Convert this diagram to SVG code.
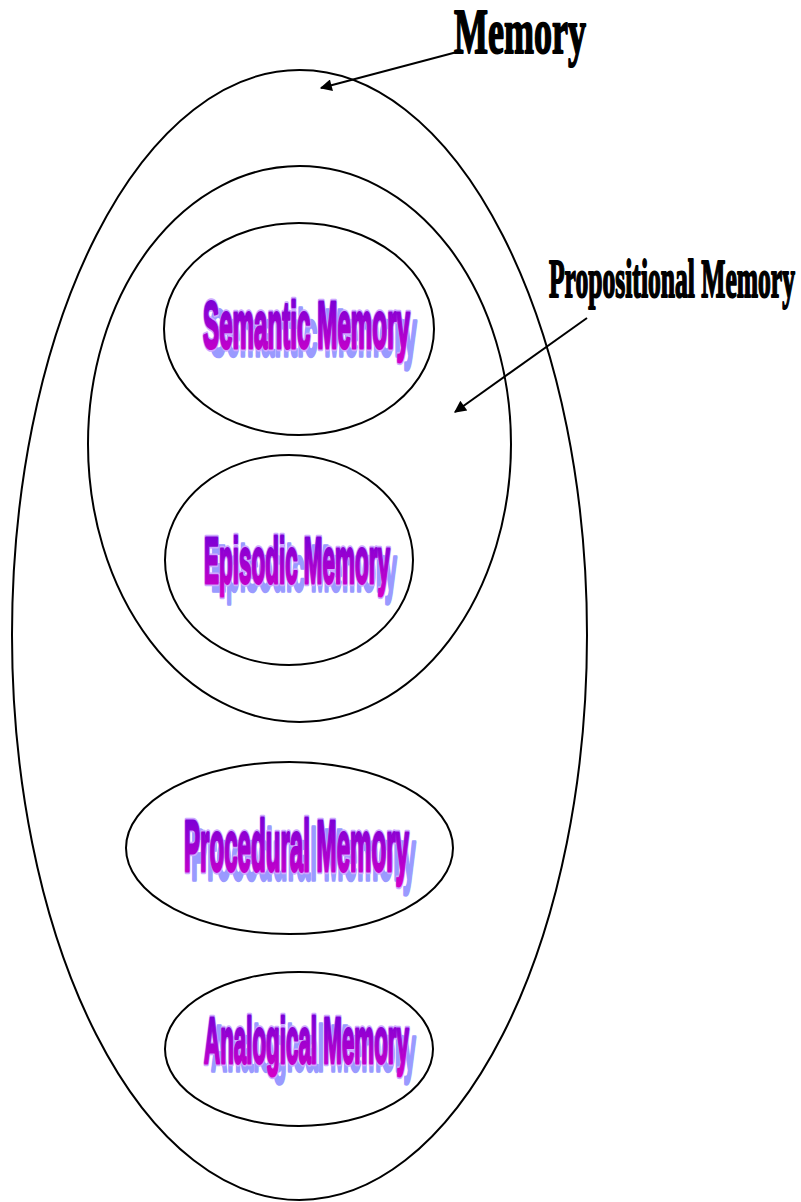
<svg xmlns="http://www.w3.org/2000/svg" width="801" height="1202" viewBox="0 0 801 1202">
  <style>
    .ring { fill: none; stroke: #000; stroke-width: 2; }
    .link { stroke: #000; stroke-width: 2; fill: none; marker-end: url(#head); }
    .title { font-family: "Liberation Serif", "Times New Roman", serif; font-weight: bold; fill: #000; stroke: #000; stroke-width: 2; stroke-linejoin: round; }
    .art { font-family: "Liberation Sans", Arial, sans-serif; font-weight: bold; stroke-linejoin: round; }
    .shadow { fill: #9a9aff; stroke: #9a9aff; stroke-width: 3.5; }
    .halo { fill: #cda8ff; stroke: #cda8ff; stroke-width: 6.5; }
    .face { fill: url(#wordart); stroke: url(#wordart); stroke-width: 3; }
  </style>
  <defs>
    <linearGradient id="wordart" x1="0" y1="0" x2="0" y2="1">
      <stop offset="0" stop-color="#6a00d8"/>
      <stop offset="1" stop-color="#d400c8"/>
    </linearGradient>
    <marker id="head" viewBox="0 0 10 10" refX="9" refY="5" markerWidth="8" markerHeight="6" orient="auto" markerUnits="strokeWidth">
      <path d="M0,0 L10,5 L0,10 z" fill="#000"/>
    </marker>
  </defs>

  <rect width="801" height="1202" fill="#fff"/>

  <!-- outer set: all memory -->
  <g id="memory">
    <ellipse class="ring" cx="299.5" cy="635" rx="287.5" ry="565"/>
    <text class="title" x="454" y="53" font-size="63" textLength="132" lengthAdjust="spacingAndGlyphs">Memory</text>
  </g>

  <!-- propositional subset -->
  <g id="propositional">
    <ellipse class="ring" cx="299.5" cy="444" rx="211.5" ry="278"/>
    <text class="title" x="549" y="297" font-size="54" textLength="246" lengthAdjust="spacingAndGlyphs">Propositional Memory</text>
  </g>

  <g id="semantic">
    <ellipse class="ring" cx="299" cy="329" rx="135" ry="106"/>
    <text class="art shadow" x="210" y="356" font-size="66" textLength="207" lengthAdjust="spacingAndGlyphs">Semantic Memory</text>
    <text class="art halo" x="203" y="348" font-size="66" textLength="207" lengthAdjust="spacingAndGlyphs">Semantic Memory</text>
    <text class="art face" x="203" y="348" font-size="66" textLength="207" lengthAdjust="spacingAndGlyphs">Semantic Memory</text>
  </g>

  <g id="episodic">
    <ellipse class="ring" cx="289" cy="560" rx="124" ry="105"/>
    <text class="art shadow" x="211" y="591" font-size="64" textLength="186" lengthAdjust="spacingAndGlyphs">Episodic Memory</text>
    <text class="art halo" x="204" y="583" font-size="64" textLength="186" lengthAdjust="spacingAndGlyphs">Episodic Memory</text>
    <text class="art face" x="204" y="583" font-size="64" textLength="186" lengthAdjust="spacingAndGlyphs">Episodic Memory</text>
  </g>

  <g id="procedural">
    <ellipse class="ring" cx="289.5" cy="848" rx="163.5" ry="86"/>
    <text class="art shadow" x="191" y="880" font-size="72" textLength="225" lengthAdjust="spacingAndGlyphs">Procedural Memory</text>
    <text class="art halo" x="184" y="871" font-size="72" textLength="225" lengthAdjust="spacingAndGlyphs">Procedural Memory</text>
    <text class="art face" x="184" y="871" font-size="72" textLength="225" lengthAdjust="spacingAndGlyphs">Procedural Memory</text>
  </g>

  <g id="analogical">
    <ellipse class="ring" cx="299" cy="1049" rx="134" ry="77"/>
    <text class="art shadow" x="211" y="1071" font-size="64" textLength="205" lengthAdjust="spacingAndGlyphs">Analogical Memory</text>
    <text class="art halo" x="204" y="1063" font-size="64" textLength="205" lengthAdjust="spacingAndGlyphs">Analogical Memory</text>
    <text class="art face" x="204" y="1063" font-size="64" textLength="205" lengthAdjust="spacingAndGlyphs">Analogical Memory</text>
  </g>

  <!-- label pointers -->
  <g id="connectors">
    <line class="link" x1="457" y1="52" x2="321" y2="88"/>
    <line class="link" x1="587" y1="318" x2="455" y2="412"/>
  </g>
</svg>
